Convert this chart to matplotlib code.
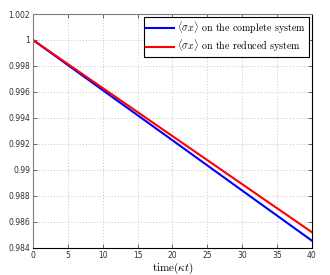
import numpy as np
import matplotlib.pyplot as plt

# data
time_points = [0, 10, 20, 30, 40]
sx_complete = [1.0, 0.99614, 0.99228, 0.98841, 0.98455]
sx_reduced = [1.0, 0.99630, 0.99260, 0.98890, 0.98520]

x_ticks = [0, 5, 10, 15, 20, 25, 30, 35, 40]
y_ticks = [0.984, 0.986, 0.988, 0.99, 0.992, 0.994, 0.996, 0.998, 1, 1.002]
y_tick_labels = ["0.984", "0.986", "0.988", "0.99", "0.992",
                 "0.994", "0.996", "0.998", "1", "1.002"]

plt.rcParams["mathtext.fontset"] = "cm"

fig = plt.figure(figsize=(3.3, 2.75), dpi=100)
ax = fig.add_axes([0.1, 0.099, 0.845, 0.85])

ax.plot(time_points, sx_complete, color="#0000ff", lw=1.5,
        label=r"$\langle\sigma x\rangle$ on the complete system")
ax.plot(time_points, sx_reduced, color="#ff0000", lw=1.5,
        label=r"$\langle\sigma x\rangle$ on the reduced system")

ax.set_xlim(0, 40)
ax.set_ylim(0.984, 1.002)
ax.set_xticks(x_ticks)
ax.set_yticks(y_ticks)
ax.set_yticklabels(y_tick_labels)

ax.tick_params(direction="in", length=3, width=0.5, labelsize=5.5,
               top=True, right=True, pad=2, colors="#303030")
ax.grid(True, linestyle=(0, (1, 2.5)), color="#b0b0b0", lw=0.6)

for side in ["left", "top"]:
    ax.spines[side].set_color("#808080")
for side in ["bottom", "right"]:
    ax.spines[side].set_color("#000000")
for s in ax.spines.values():
    s.set_linewidth(0.8)

ax.set_xlabel(r"$\mathrm{time}(\kappa t)$", fontsize=8, labelpad=1)

leg = ax.legend(loc="upper right", fontsize=7, frameon=True, fancybox=False,
                edgecolor="black", framealpha=1, borderpad=0.25,
                handlelength=2.8, handletextpad=0.3, labelspacing=0.2,
                borderaxespad=0.3, prop={"family": "serif", "size": 7.2})
leg.get_frame().set_linewidth(0.8)
for t in leg.get_texts():
    t.set_fontfamily("cmr10")

fig.savefig("out.png", dpi=100)
